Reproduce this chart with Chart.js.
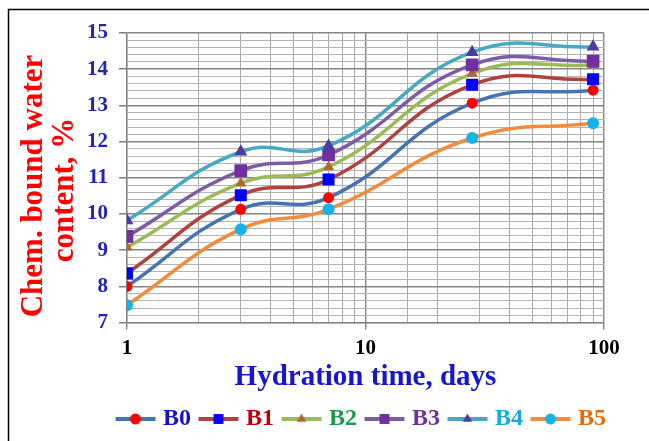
<!DOCTYPE html>
<html>
<head>
<meta charset="utf-8">
<script src="https://cdn.jsdelivr.net/npm/chart.js@4.4.1/dist/chart.umd.min.js"></script>
<style>
  html, body { margin: 0; padding: 0; background: #fff; }
  #wrap { width: 649px; height: 441px; position: relative; }
</style>
</head>
<body>
<div id="wrap"><canvas id="chart-water"></canvas></div>
<script>
// hydration time (days) and bound water content (%) per mix
const days = [1, 3, 7, 28, 90];
const seriesNames = ['B0', 'B1', 'B2', 'B3', 'B4', 'B5'];
const B0 = [8.00, 10.13, 10.45, 13.06, 13.42];
const B1 = [8.36, 10.52, 10.95, 13.57, 13.72];
const B2 = [9.08, 10.85, 11.30, 13.88, 14.12];
const B3 = [9.38, 11.20, 11.63, 14.12, 14.22];
const B4 = [9.82, 11.72, 11.88, 14.47, 14.62];
const B5 = [7.48, 9.58, 10.13, 12.10, 12.51];
const xTickLabels = [1, 10, 100];
const yTitleLines = ['Chem. bound water', 'content, %'];
const xTitle = 'Hydration time, days';

const seriesValues = [B0, B1, B2, B3, B4, B5];

const lineColors = ['#4674B2', '#AE423E', '#9BBB59', '#7C5CA4', '#48A8C4', '#F28C3C'];
const markerColors = ['#FF0000', '#0000FF', '#B5652F', '#7030A0', '#4B3CA2', '#14B4EA'];
const markerStyles = ['circle', 'rect', 'triangle', 'rect', 'triangle', 'circle'];
const markerRadius = [5.5, 8.5, 6.5, 9, 7.5, 6];
const labelColors = ['#1414C8', '#C00000', '#1E9A4C', '#7030A0', '#19A9E1', '#E46C0A'];

const serif = '"Liberation Serif", "Times New Roman", serif';

function isWhole(v) {
    return Math.abs(v - Math.round(v)) < 1e-6;
}

// small line + marker picture used as legend symbol
function legendIcon(i) {
    const c = document.createElement('canvas');
    c.width = 42;
    c.height = 16;
    const g = c.getContext('2d');
    g.strokeStyle = lineColors[i];
    g.lineWidth = 4;
    g.beginPath();
    g.moveTo(1, 8);
    g.lineTo(41, 8);
    g.stroke();
    g.fillStyle = markerColors[i];
    Chart.helpers.drawPoint(g, {pointStyle: markerStyles[i], radius: markerStyles[i] === 'rect' ? 7 : 5.5, borderWidth: 0, rotation: 0}, 21, 8);
    return c;
}

const datasets = seriesNames.map((name, i) => ({
    label: name,
    data: days.map((d, k) => ({x: d, y: seriesValues[i][k]})),
    borderColor: lineColors[i],
    borderWidth: 3.5,
    tension: 0.45,
    fill: false,
    pointStyle: markerStyles[i],
    pointRadius: markerRadius[i],
    pointBackgroundColor: markerColors[i],
    pointBorderColor: markerColors[i],
    pointBorderWidth: 0,
    order: seriesNames.length - i   // later series drawn on top, like the original
}));

const framePlugin = {
    id: 'frame',
    beforeDraw(chart) {
        const ctx = chart.ctx;
        ctx.save();
        ctx.fillStyle = '#fff';
        ctx.fillRect(0, 0, chart.width, chart.height);
        ctx.strokeStyle = '#000';
        ctx.lineWidth = 1.5;
        ctx.beginPath();
        ctx.moveTo(8.5, chart.height);
        ctx.lineTo(8.5, 9.5);
        ctx.lineTo(chart.width, 9.5);
        ctx.stroke();
        ctx.restore();
    }
};

// two-line rotated y title, placed like the original figure
const yTitlePlugin = {
    id: 'yTitle',
    afterDraw(chart) {
        const ctx = chart.ctx;
        const baseX = [42, 73];
        const midY = [186, 190];
        ctx.save();
        ctx.fillStyle = '#FF0000';
        ctx.font = 'bold 31px ' + serif;
        ctx.textAlign = 'center';
        ctx.textBaseline = 'alphabetic';
        yTitleLines.forEach((t, k) => {
            ctx.save();
            ctx.translate(baseX[k], midY[k]);
            ctx.rotate(-Math.PI / 2);
            ctx.fillText(t, 0, 0);
            ctx.restore();
        });
        ctx.restore();
    }
};

const options = {
    responsive: true,
    maintainAspectRatio: false,
    animation: false,
    layout: {
        padding: {left: 10, right: 31, top: 33, bottom: 0}
    },
    scales: {
        x: {
            type: 'logarithmic',
            min: 1,
            max: 100,
            afterFit: (scale) => {
                scale.height = 72.4;
                scale.paddingRight = 45;   // keep the plot narrower than the legend row
            },
            border: {display: true, color: '#808080', width: 1.3},
            grid: {
                color: (c) => xTickLabels.includes(c.tick.value) ? '#858585' : '#ababab',
                lineWidth: (c) => xTickLabels.includes(c.tick.value) ? 1.4 : 1,
                tickColor: (c) => xTickLabels.includes(c.tick.value) ? '#808080' : 'rgba(0,0,0,0)',
                tickLength: 7
            },
            ticks: {
                autoSkip: false,
                maxRotation: 0,
                padding: 6,
                color: '#000',
                font: {family: serif, size: 21, weight: 'bold'},
                callback: (v) => xTickLabels.includes(v) ? String(v) : ''
            },
            title: {
                display: true,
                text: xTitle,
                color: '#1515D2',
                font: {family: serif, size: 29, weight: 'bold'},
                padding: {top: 0, bottom: 0}
            }
        },
        y: {
            min: 7,
            max: 15,
            afterFit: (scale) => { scale.width = 117; },
            border: {display: true, color: '#808080', width: 1.3},
            grid: {
                color: (c) => isWhole(c.tick.value) ? '#858585' : '#b4b4b4',
                lineWidth: (c) => isWhole(c.tick.value) ? 1.5 : 1,
                tickColor: (c) => isWhole(c.tick.value) ? '#808080' : 'rgba(0,0,0,0)',
                tickLength: 8
            },
            ticks: {
                stepSize: 0.2,
                autoSkip: false,
                padding: 11,
                color: '#2323BE',
                font: {family: serif, size: 21, weight: 'bold'},
                callback: (v) => isWhole(v) ? String(Math.round(v)) : ''
            }
        }
    },
    plugins: {
        tooltip: {enabled: false},
        legend: {
            position: 'bottom',
            align: 'end',
            labels: {
                usePointStyle: true,
                pointStyleWidth: 31,
                padding: 12,
                font: {family: serif, size: 24, weight: 'bold'},
                generateLabels: (chart) => chart.data.datasets.map((ds, i) => ({
                    text: ds.label,
                    fontColor: labelColors[i],
                    pointStyle: legendIcon(i),
                    fillStyle: markerColors[i],
                    strokeStyle: lineColors[i],
                    lineWidth: 0,
                    hidden: false,
                    datasetIndex: i
                }))
            }
        }
    }
};

const ctx = document.getElementById('chart-water').getContext('2d');
const myChart = new Chart(ctx, {
    type: 'line',
    data: {datasets: datasets},
    options: options,
    plugins: [framePlugin, yTitlePlugin]
});
</script>
</body>
</html>
